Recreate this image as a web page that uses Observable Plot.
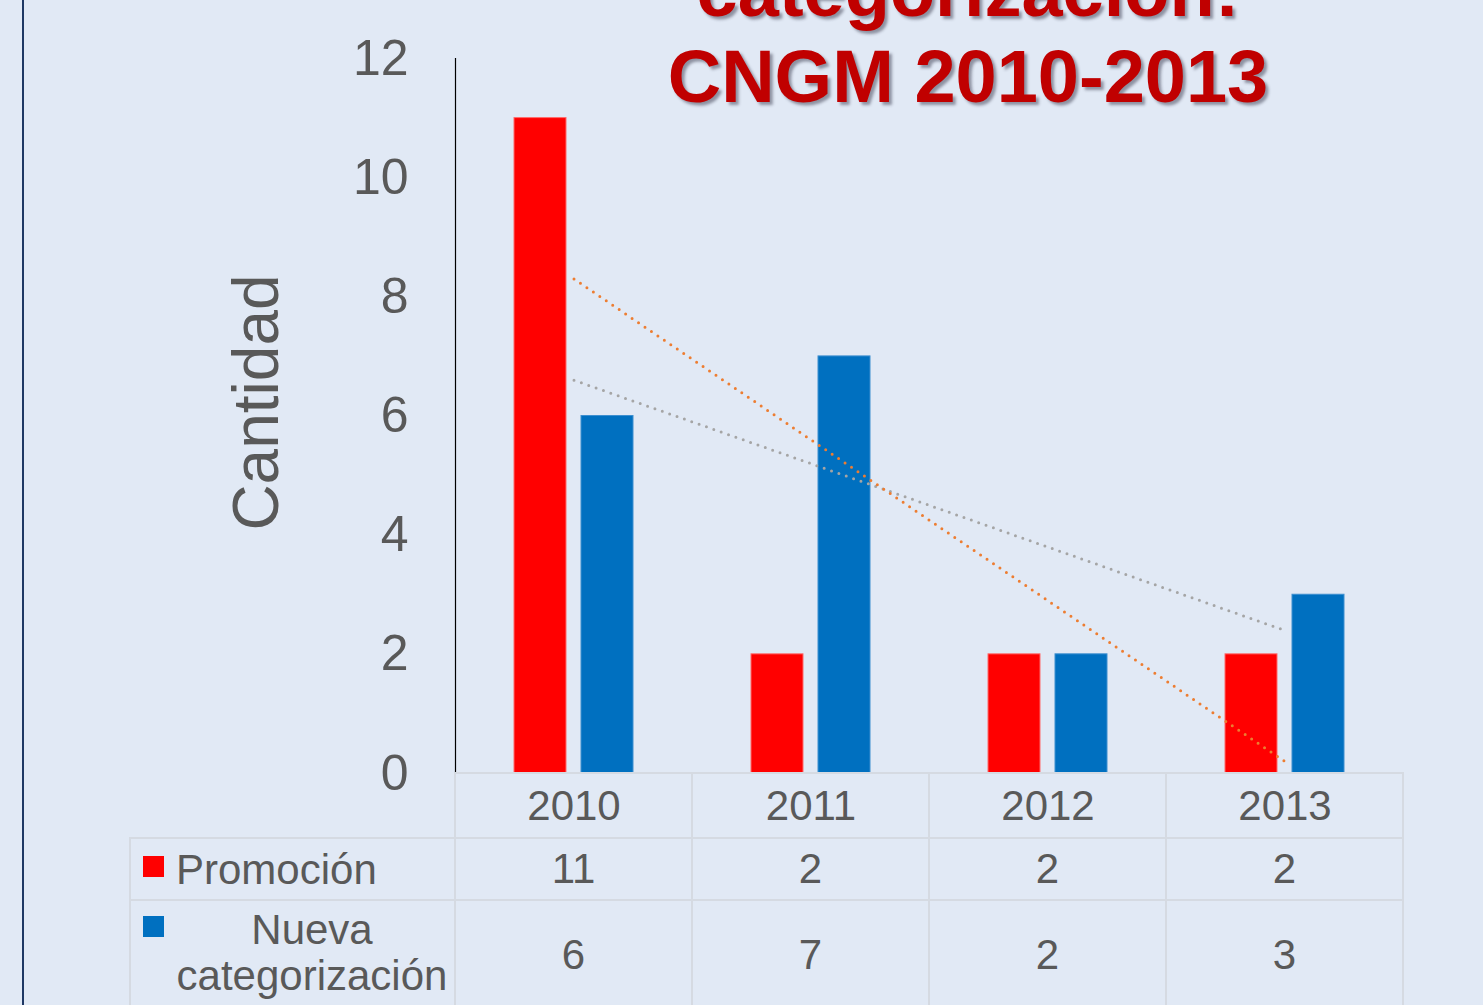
<!DOCTYPE html>
<html>
<head>
<meta charset="utf-8">
<script src="https://cdn.jsdelivr.net/npm/d3@7"></script>
<script src="https://cdn.jsdelivr.net/npm/@observablehq/plot@0.6"></script>
<style>
  html, body { margin:0; padding:0; width:1483px; height:1005px; overflow:hidden; background:#E1E9F5;
    font-family: Arial, "Liberation Sans", sans-serif; }
  #wrap { position:relative; width:1483px; height:1005px; overflow:hidden; }
  #leftline { position:absolute; left:22px; top:0; width:2px; height:1005px; background:#1F3864; }
  #chart { position:absolute; left:0; top:0; }
  #title { position:absolute; left:568px; width:800px; top:-52px; text-align:center;
    font: bold 74px Arial, "Liberation Sans", sans-serif; line-height:86px; color:#C00000;
    text-shadow: 3px 3px 3px rgba(40,40,60,0.45); white-space:nowrap; }
  #tbl { position:absolute; left:129px; top:772px; border-collapse:collapse; table-layout:fixed;
    font: 42px Arial, "Liberation Sans", sans-serif; color:#595959; }
  #tbl td { border:2px solid #D5DAE2; padding:0; text-align:center; vertical-align:middle; position:relative; }
  #tbl td.corner { border-top:none; border-left:none; }
  .sw { position:absolute; left:12px; width:21px; height:21px; }
  .lab1 { position:absolute; left:45px; top:0; line-height:62px; white-space:nowrap; }
  .lab2 { position:absolute; left:45px; width:272px; top:6px; line-height:46px; text-align:center; white-space:nowrap; }
</style>
</head>
<body>
<div id="wrap">
  <div id="leftline"></div>
  <div id="chart"></div>
  <table id="tbl"></table>
  <div id="title">categorización:<br>CNGM 2010-2013</div>
</div>
<script>
// ---- data ----
const years = ["2010", "2011", "2012", "2013"];
const promocion = [11, 2, 2, 2];
const nuevaCategorizacion = [6, 7, 2, 3];
const seriesNames = ["Promoción", "Nueva categorización"];
const seriesColors = ["#FF0000", "#0070C0"];
const trendColors = ["#ED7D31", "#A5A5A5"];
const yTicks = [0, 2, 4, 6, 8, 10, 12];
const yLabel = "Cantidad";

// ---- derived tables ----
const seriesValues = [promocion, nuevaCategorizacion];
const barRows = seriesValues.map((vals, s) => years.map((year, i) => ({year, series: seriesNames[s], value: vals[i]})));

// linear trendlines (least squares over category index), like the spreadsheet trendline
function linearTrend(vals) {
  const xs = vals.map((_, i) => i + 1);
  const mx = d3.mean(xs), my = d3.mean(vals);
  const slope = d3.sum(xs.map((x, i) => (x - mx) * (vals[i] - my))) / d3.sum(xs.map(x => (x - mx) ** 2));
  return xs.map(x => my + slope * (x - mx));
}
const trendRows = seriesValues.map((vals, s) => linearTrend(vals).map((v, i) => ({year: years[i], series: seriesNames[s], value: v})));

const chart = Plot.plot({
  width: 1483,
  height: 838,
  marginLeft: 455,
  marginRight: 80,
  marginTop: 58,
  marginBottom: 65,
  style: {background: "transparent", fontFamily: "Arial, 'Liberation Sans', sans-serif", color: "#595959", overflow: "visible"},
  x: {domain: years, padding: 0, axis: null},
  y: {domain: [0, 12], axis: null},
  marks: [
    Plot.barY(barRows[0], {x: "year", y: "value", fill: seriesColors[0], stroke: "#FF6A6A", strokeWidth: 1, insetLeft: 92.5, insetRight: 92.5, dx: -33.5}),
    Plot.barY(barRows[1], {x: "year", y: "value", fill: seriesColors[1], stroke: "#3D8FD0", strokeWidth: 1, insetLeft: 92.5, insetRight: 92.5, dx: 33.5}),
    Plot.line(trendRows[1], {x: "year", y: "value", stroke: trendColors[1], strokeWidth: 3, strokeDasharray: "0,7.8", strokeLinecap: "round"}),
    Plot.line(trendRows[0], {x: "year", y: "value", stroke: trendColors[0], strokeWidth: 3, strokeDasharray: "0,7.8", strokeLinecap: "round"}),
    Plot.frame({anchor: "left", stroke: "#000000", strokeWidth: 1.2}),
    Plot.axisY({ticks: yTicks, tickSize: 0, tickPadding: 47, fontSize: 50, label: null}),
    Plot.axisX({tickSize: 0, tickPadding: 17, fontSize: 42, label: null}),
    Plot.text([yLabel], {text: d => d, frameAnchor: "left", textAnchor: "middle", rotate: -90, dx: -198, dy: -13.5, fontSize: 64, fill: "#595959"})
  ]
});
document.getElementById("chart").appendChild(chart);

// ---- data table below the chart ----
const tbl = document.getElementById("tbl");
const colWidths = [325, 237, 237, 237, 237];
const colgroup = document.createElement("colgroup");
colWidths.forEach(w => { const c = document.createElement("col"); c.style.width = w + "px"; colgroup.appendChild(c); });
tbl.appendChild(colgroup);

const hdr = document.createElement("tr");
hdr.style.height = "65px";
const corner = document.createElement("td"); corner.className = "corner"; hdr.appendChild(corner);
years.forEach(() => hdr.appendChild(document.createElement("td")));
tbl.appendChild(hdr);

const rowHeights = [62, 110];
seriesNames.forEach((name, s) => {
  const tr = document.createElement("tr");
  tr.style.height = rowHeights[s] + "px";
  const lab = document.createElement("td");
  const sw = document.createElement("span");
  sw.className = "sw";
  sw.style.background = seriesColors[s];
  sw.style.top = (s === 0 ? 17 : 15) + "px";
  lab.appendChild(sw);
  const t = document.createElement("div");
  if (s === 0) { t.className = "lab1"; t.textContent = name; }
  else { t.className = "lab2"; const parts = name.split(" "); t.innerHTML = parts[0] + "<br>" + parts.slice(1).join(" "); }
  lab.appendChild(t);
  tr.appendChild(lab);
  seriesValues[s].forEach(v => { const td = document.createElement("td"); td.textContent = v; tr.appendChild(td); });
  tbl.appendChild(tr);
});
</script>
</body>
</html>
